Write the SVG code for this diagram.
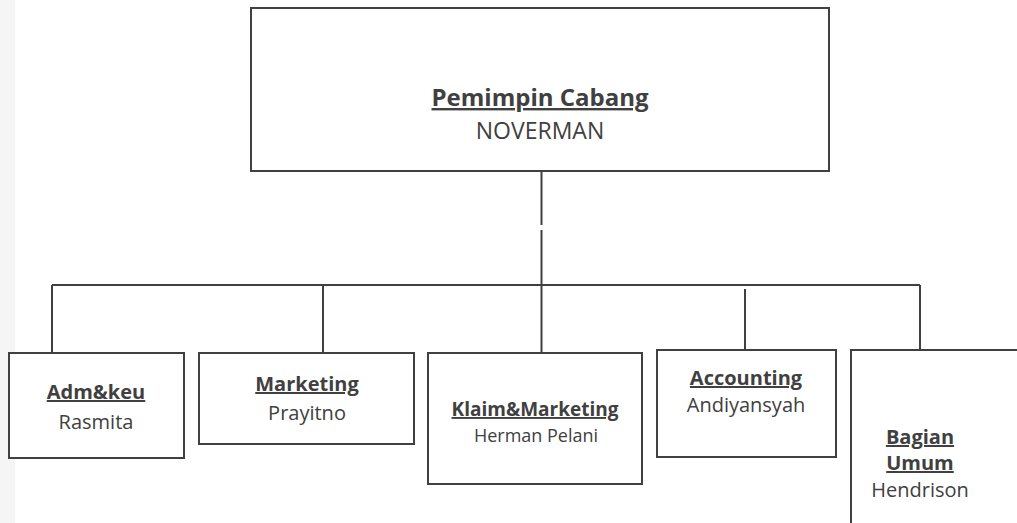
<svg xmlns="http://www.w3.org/2000/svg" width="1017" height="523" viewBox="0 0 1017 523">
<style>
.box{fill:#ffffff;stroke:#404040;stroke-width:2}
.ln{stroke:#404040;stroke-width:2;fill:none}
.t{font-family:"Open Sans","Noto Sans",sans-serif;fill:#404040;text-anchor:middle}
.b{font-weight:bold;text-decoration:underline}
</style>
<rect width="1017" height="523" fill="#ffffff"/>
<rect x="0" y="0" width="15" height="523" fill="#f4f5f4"/>
<g id="connectors">
<path class="ln" d="M541.5 171V225M541.5 230V285"/>
<path class="ln" d="M52 285H920"/>
<path class="ln" d="M52 285V353M323 285V353M541.5 285V353M745 289V350M920 285V350"/>
</g>
<g id="node-pemimpin">
<rect class="box" x="251" y="8" width="578" height="163"/>
<text class="t b" x="540" y="106" font-size="24">Pemimpin Cabang</text>
<text class="t" x="540" y="139" font-size="23">NOVERMAN</text>
</g>
<g id="node-admkeu">
<rect class="box" x="9" y="353" width="175" height="105"/>
<text class="t b" x="96" y="399" font-size="20">Adm&amp;keu</text>
<text class="t" x="96" y="429" font-size="20">Rasmita</text>
</g>
<g id="node-marketing">
<rect class="box" x="199" y="353" width="215" height="91"/>
<text class="t b" x="307" y="391" font-size="20">Marketing</text>
<text class="t" x="307" y="420" font-size="20">Prayitno</text>
</g>
<g id="node-klaim">
<rect class="box" x="428" y="353" width="214" height="131"/>
<text class="t b" x="535" y="416" font-size="19">Klaim&amp;Marketing</text>
<text class="t" x="536" y="442" font-size="18">Herman Pelani</text>
</g>
<g id="node-accounting">
<rect class="box" x="657" y="350" width="179" height="107"/>
<text class="t b" x="746" y="385" font-size="20">Accounting</text>
<text class="t" x="746" y="412" font-size="20">Andiyansyah</text>
</g>
<g id="node-bagian">
<path class="box" d="M851 530V350H1020"/>
<text class="t b" x="920" y="444" font-size="20">Bagian</text>
<text class="t b" x="920" y="470" font-size="20">Umum</text>
<text class="t" x="920" y="497" font-size="20">Hendrison</text>
</g>
</svg>
